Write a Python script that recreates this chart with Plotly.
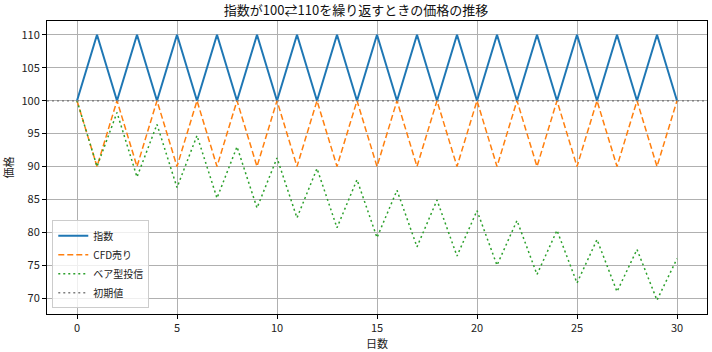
import plotly.graph_objects as go

days = list(range(31))
index_vals = [100, 110, 100, 110, 100, 110, 100, 110, 100, 110, 100, 110, 100, 110, 100, 110,
              100, 110, 100, 110, 100, 110, 100, 110, 100, 110, 100, 110, 100, 110, 100]
cfd_vals = [100, 90, 100, 90, 100, 90, 100, 90, 100, 90, 100, 90, 100, 90, 100, 90,
            100, 90, 100, 90, 100, 90, 100, 90, 100, 90, 100, 90, 100, 90, 100]
bear_vals = [100, 90, 98.2, 88.4, 96.4, 86.8, 94.7, 85.2, 93.0, 83.7, 91.3, 82.2, 89.7, 80.7, 88.0, 79.2,
             86.4, 77.8, 84.9, 76.4, 83.3, 75.0, 81.8, 73.6, 80.3, 72.3, 78.9, 71.0, 77.4, 69.7, 76.0]
initial_value = 100
names = ["指数", "CFD売り", "ベア型投信", "初期値"]
title = "指数が100⇄110を繰り返すときの価格の推移"
x_title = "日数"
y_title = "価格"

FONT = "Noto Sans CJK JP, Noto Sans, DejaVu Sans"

fig = go.Figure()
fig.add_trace(go.Scatter(x=days, y=index_vals, mode="lines", name=names[0],
                         line=dict(color="#1f77b4", width=2, dash="solid")))
fig.add_trace(go.Scatter(x=days, y=cfd_vals, mode="lines", name=names[1],
                         line=dict(color="#ff7f0e", width=1.5, dash="6px,3px")))
fig.add_trace(go.Scatter(x=days, y=bear_vals, mode="lines", name=names[2],
                         line=dict(color="#2ca02c", width=1.5, dash="2px,3px")))
fig.add_trace(go.Scatter(x=[None], y=[None], mode="lines", name=names[3],
                         line=dict(color="#7f7f7f", width=1.5, dash="2px,3px")))
fig.add_shape(type="line", xref="x domain", yref="y", x0=0, x1=1, y0=initial_value, y1=initial_value,
              line=dict(color="#7f7f7f", width=1.5, dash="2px,3px"), layer="above")

axis_common = dict(showgrid=True, gridcolor="#b0b0b0", gridwidth=0.8, zeroline=False,
                   showline=True, linecolor="black", linewidth=1, mirror=True,
                   ticks="outside", ticklen=4, tickcolor="black",
                   tickfont=dict(family=FONT, size=11, color="#222"))

fig.update_xaxes(range=[-1.5, 31.5], dtick=5, tick0=0,
                 title=dict(text=x_title, font=dict(family=FONT, size=11, color="#222"), standoff=4),
                 **axis_common)
fig.update_yaxes(range=[67.6, 112.1], dtick=5, tick0=70,
                 title=dict(text=y_title, font=dict(family=FONT, size=11, color="#222"), standoff=6),
                 **axis_common)

fig.update_layout(
    width=712, height=352,
    margin=dict(l=47, r=5, t=21, b=38),
    plot_bgcolor="white", paper_bgcolor="white",
    title=dict(text=title, x=0.5, xanchor="center", y=0.97, yanchor="middle",
               font=dict(family=FONT, size=13, color="#111")),
    legend=dict(x=0.008, y=0.02, xanchor="left", yanchor="bottom",
                bgcolor="rgba(255,255,255,0.8)", bordercolor="#cccccc", borderwidth=1,
                font=dict(family=FONT, size=10, color="#222"), tracegroupgap=0,
                itemwidth=30),
    font=dict(family=FONT),
)

fig.write_html("out.html")
